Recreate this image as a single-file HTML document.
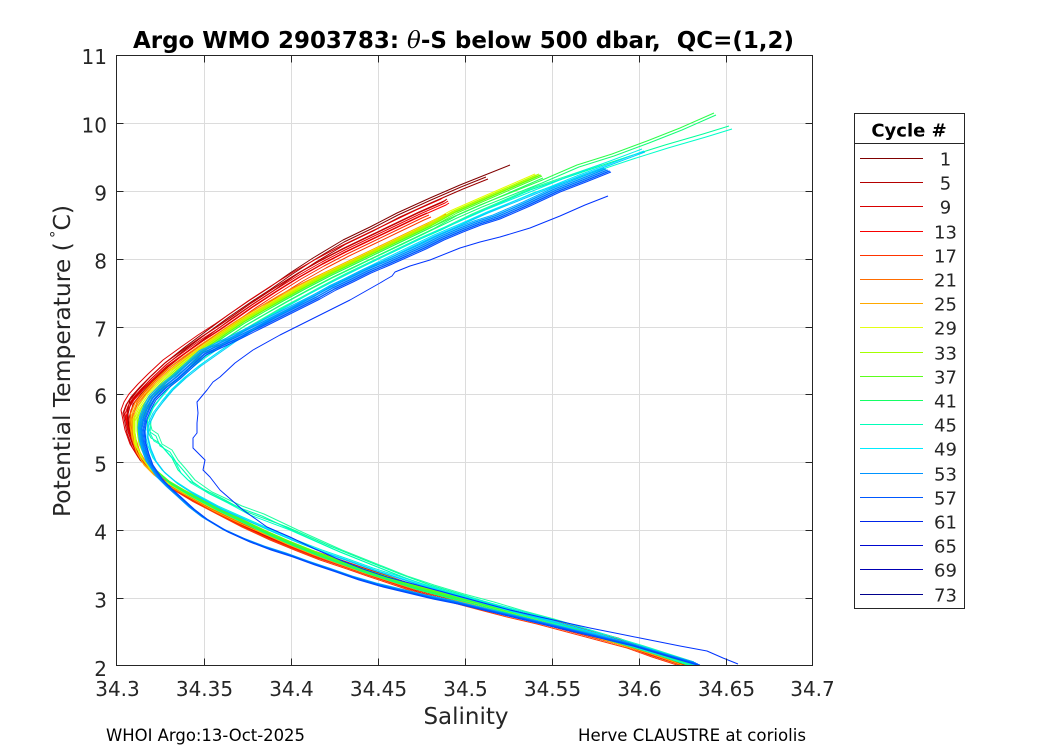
<!DOCTYPE html>
<html><head><meta charset="utf-8"><style>
html,body{margin:0;padding:0;background:#fff;}
svg{display:block;}
text{font-family:"DejaVu Sans","Liberation Sans",sans-serif;fill:#262626;}
</style></head><body>
<svg width="1050" height="750" viewBox="0 0 1050 750" xmlns="http://www.w3.org/2000/svg" xmlns:xlink="http://www.w3.org/1999/xlink">
<rect width="1050" height="750" fill="#fff"/>
<defs>
<clipPath id="cp"><rect x="117" y="56" width="696" height="610"/></clipPath>
<path id="dr" fill="none" d="M510,165 L485,175 L460,185 L430,198 L397,213 L370,227 L343,240 L313,258 L290,273 L270,287 L250,300 L228,315 L205,332 L185,347 L165,363 L150,377 L138,390 L130,400 L127,412 L128,422 L130,433 L135,447 L142,460 L152,471 L167,483 L187,495 L212,508 L237,521 L265,534 L292,545 L315,554 L342,563 L365,571 L392,580 L415,588 L445,596 L475,604 L502,611 L532,618 L562,626 L592,634 L622,642 L647,651 L672,659 L692,666"/>
<path id="dr2" fill="none" d="M485,175 L460,185 L430,198 L397,213 L370,227 L343,240 L313,258 L290,273 L270,287 L250,300 L228,315 L205,332 L185,347 L165,363 L150,377 L138,390 L130,400 L127,412 L128,422 L130,433 L135,447 L142,460 L152,471 L167,483 L187,495 L212,508 L237,521 L265,534 L292,545 L315,554 L342,563 L365,571 L392,580 L415,588 L445,596 L475,604 L502,611 L532,618 L562,626 L592,634 L622,642 L647,651 L672,659 L692,666"/>
<path id="r1" fill="none" d="M446,200 L443,202 L418,213 L393,225 L368,237 L343,249 L320,261 L297,274 L273,289 L250,304 L233,316 L217,327 L200,338 L183,350 L165,363 L150,377 L140,387 L131,397 L126,405 L123,413 L125,423 L127,433 L132,447 L140,460 L150,470 L165,482 L185,494 L210,507 L235,520 L263,533 L290,544 L313,553 L340,562 L363,570 L390,579 L413,587 L443,595 L473,603 L500,610 L530,617 L560,625 L590,633 L620,641 L645,650 L670,658 L693,666"/>
<path id="r2" fill="none" d="M425,210 L418,213 L393,225 L368,237 L343,249 L320,261 L297,274 L273,289 L250,304 L233,316 L217,327 L200,338 L183,350 L165,363 L150,377 L140,387 L131,397 L127,405 L125,413 L126,423 L128,433 L133,447 L141,460 L151,470 L166,482 L186,494 L211,507 L236,520 L264,533 L291,544 L314,553 L341,562 L364,570 L391,579 L414,587 L444,595 L474,603 L501,610 L531,617 L561,625 L591,633 L621,641 L646,650 L671,658 L693,666"/>
<path id="o" fill="none" d="M446,214 L430,222 L405,234 L380,246 L355,258 L330,270 L305,282 L280,295 L258,308 L238,320 L220,332 L202,344 L185,356 L168,369 L155,381 L145,392 L137,402 L133,412 L132,425 L134,437 L138,450 L145,462 L155,472 L170,483 L188,493 L213,507 L240,520 L265,531 L290,542 L315,552 L340,561 L365,570 L390,578 L415,586 L445,594 L475,602 L505,610 L535,618 L565,626 L595,634 L625,643 L652,651 L675,659 L694,666"/>
<path id="g" fill="none" d="M540,175 L510,188 L480,201 L455,212 L430,226 L405,238 L380,250 L355,262 L330,274 L305,287 L283,299 L262,311 L243,322 L225,334 L208,346 L192,358 L177,370 L163,383 L152,395 L143,408 L138,420 L138,432 L140,445 L146,458 L155,470 L168,481 L185,491 L213,506 L240,519 L265,531 L290,542 L315,552 L340,561 L365,570 L390,578 L415,586 L445,594 L475,602 L505,610 L535,618 L565,626 L595,634 L625,643 L652,651 L675,659 L695,665"/>
<path id="gl" fill="none" d="M714,113 L680,128 L647,141 L612,154 L577,165 L540,181 L510,193 L480,205 L455,216 L430,228 L405,240 L380,252 L355,264 L330,276 L305,289 L283,301 L262,313 L243,324 L225,336 L208,348 L192,360 L177,372 L163,385 L153,397 L145,410 L140,422 L140,434 L142,447 L148,460 L157,472 L170,483 L187,493 L215,508 L242,521 L267,533 L292,544 L317,554 L342,563 L367,572 L392,580 L417,588 L447,596 L477,603 L507,611 L537,619 L567,627 L597,635 L627,644 L654,652 L677,660 L696,665"/>
<path id="c" fill="none" d="M729,126 L703,134 L665,145 L630,156 L600,166 L565,178 L530,190 L500,203 L470,216 L443,229 L418,240 L393,252 L368,264 L343,276 L320,288 L298,300 L277,311 L258,322 L238,334 L220,346 L203,358 L187,370 L173,383 L162,396 L153,408 L148,418 L147,430 L151,438 L158,442 L165,450 L172,458 L178,470 L188,480 L205,490 L225,500 L247,512 L287,527 L330,546 L367,561 L400,574 L430,585 L460,594 L490,603 L520,612 L550,620 L580,629 L610,638 L640,647 L665,655 L690,663"/>
<path id="c3" fill="none" d="M600,166 L565,178 L530,190 L500,203 L470,216 L443,229 L418,240 L393,252 L368,264 L343,276 L320,288 L298,300 L277,311 L258,322 L238,334 L220,346 L203,358 L187,370 L173,383 L162,396 L152,408 L147,420 L150,432 L156,436 L160,446 L170,452 L176,462 L183,470 L193,482 L210,494 L240,508 L262,516 L300,534 L340,552 L375,566 L405,578 L432,587 L462,596 L492,604 L522,613 L552,621 L582,630 L612,639 L642,648 L667,656 L692,664"/>
<path id="c2" fill="none" d="M642,149 L610,161 L577,173 L545,186 L515,198 L485,210 L458,222 L432,233 L407,245 L382,257 L358,269 L334,281 L311,293 L290,305 L270,316 L251,327 L232,339 L215,351 L198,363 L183,375 L170,387 L160,399 L151,411 L146,422 L145,434 L148,446 L153,458 L162,470 L175,481 L192,492 L218,506 L245,518 L270,529 L296,540 L322,550 L348,559 L373,568 L398,576 L423,584 L453,593 L483,601 L513,609 L543,617 L573,625 L603,634 L633,643 L658,651 L680,658 L697,664"/>
<path id="b" fill="none" d="M608,170 L583,180 L557,190 L527,204 L497,217 L478,223 L460,230 L441,238 L423,247 L405,255 L387,263 L368,271 L350,280 L333,288 L317,297 L297,307 L277,317 L257,327 L237,337 L220,345 L203,353 L190,365 L177,377 L164,387 L153,398 L148,407 L144,417 L142,429 L143,441 L146,452 L150,463 L160,478 L170,488 L180,497 L192,508 L205,518 L225,530 L247,540 L268,548 L290,555 L312,563 L333,570 L356,578 L380,585 L405,591 L430,597 L455,602 L480,608 L505,614 L530,620 L555,626 L580,632 L605,638 L630,644 L650,650 L670,656 L698,664"/>
<path id="x" fill="none" d="M608,196 L585,205 L560,216 L530,228 L500,237 L480,242 L460,248 L430,260 L410,266 L400,270 L395,272 L392,276 L385,280 L380,283 L350,300 L330,310 L310,320 L280,335 L253,350 L235,363 L220,377 L213,382 L207,390 L197,402 L198,413 L197,423 L197,433 L193,438 L193,448 L200,455 L205,460 L203,470 L210,477 L220,490 L243,510 L267,527 L290,537 L315,549 L340,560 L363,569 L387,577 L417,585 L447,593 L480,602 L510,610 L540,617 L590,628 L640,638 L680,646 L707,651 L723,658 L738,664"/>
</defs>

<!-- grid -->
<g stroke="#dcdcdc" stroke-width="1">
<line x1="204.5" y1="56" x2="204.5" y2="666"/>
<line x1="291.5" y1="56" x2="291.5" y2="666"/>
<line x1="378.5" y1="56" x2="378.5" y2="666"/>
<line x1="465.5" y1="56" x2="465.5" y2="666"/>
<line x1="552.5" y1="56" x2="552.5" y2="666"/>
<line x1="639.5" y1="56" x2="639.5" y2="666"/>
<line x1="726.5" y1="56" x2="726.5" y2="666"/>
<line x1="117" y1="598.5" x2="813" y2="598.5"/>
<line x1="117" y1="530.5" x2="813" y2="530.5"/>
<line x1="117" y1="462.5" x2="813" y2="462.5"/>
<line x1="117" y1="394.5" x2="813" y2="394.5"/>
<line x1="117" y1="327.5" x2="813" y2="327.5"/>
<line x1="117" y1="259.5" x2="813" y2="259.5"/>
<line x1="117" y1="191.5" x2="813" y2="191.5"/>
<line x1="117" y1="123.5" x2="813" y2="123.5"/>
</g>

<!-- data -->
<g clip-path="url(#cp)" fill="none" stroke-width="1" stroke-linejoin="round">
<use href="#dr" xlink:href="#dr" stroke="#800000"/>
<use href="#dr2" xlink:href="#dr2" stroke="#8c0000" transform="translate(1,2)"/>
<use href="#dr2" xlink:href="#dr2" stroke="#9a0000" transform="translate(3,4)"/>
<use href="#r1" xlink:href="#r1" stroke="#b80000"/>
<use href="#r1" xlink:href="#r1" stroke="#c80000" transform="translate(1,-1)"/>
<use href="#r1" xlink:href="#r1" stroke="#e00000" transform="translate(-2,-3)"/>
<use href="#r1" xlink:href="#r1" stroke="#f00000" transform="translate(2,1)"/>
<use href="#r1" xlink:href="#r1" stroke="#ff0000" transform="translate(3,3)"/>
<use href="#r2" xlink:href="#r2" stroke="#d80000" transform="translate(2,3)"/>
<use href="#r2" xlink:href="#r2" stroke="#ff2400" transform="translate(4,5)"/>
<use href="#r2" xlink:href="#r2" stroke="#ff3800" transform="translate(6,7)"/>
<use href="#o" xlink:href="#o" stroke="#ff5000"/>
<use href="#o" xlink:href="#o" stroke="#ff6800" transform="translate(1,1)"/>
<use href="#o" xlink:href="#o" stroke="#ff8000" transform="translate(2,2)"/>
<use href="#o" xlink:href="#o" stroke="#ff9800" transform="translate(-2,1)"/>
<use href="#o" xlink:href="#o" stroke="#ffb000" transform="translate(-1,3)"/>
<use href="#g" xlink:href="#g" stroke="#e6ff00" transform="translate(-5,-1)"/>
<use href="#g" xlink:href="#g" stroke="#d4ff00" transform="translate(-4,0)"/>
<use href="#g" xlink:href="#g" stroke="#c4ff00" transform="translate(-3,1)"/>
<use href="#g" xlink:href="#g" stroke="#a8ff00" transform="translate(-1,-1)"/>
<use href="#g" xlink:href="#g" stroke="#8cff00"/>
<use href="#g" xlink:href="#g" stroke="#64ff10" transform="translate(1,0)"/>
<use href="#g" xlink:href="#g" stroke="#4cff20" transform="translate(2,1)"/>
<use href="#g" xlink:href="#g" stroke="#1eff5a" transform="translate(3,3)"/>
<use href="#gl" xlink:href="#gl" stroke="#2aff4a"/>
<use href="#gl" xlink:href="#gl" stroke="#10ff78" transform="translate(2,2)"/>
<use href="#c" xlink:href="#c" stroke="#00ff9a"/>
<use href="#c" xlink:href="#c" stroke="#00ffc8" transform="translate(3,3)"/>
<use href="#c3" xlink:href="#c3" stroke="#00ffb0"/>
<use href="#c3" xlink:href="#c3" stroke="#20ffa0" transform="translate(2,-2)"/>
<use href="#c2" xlink:href="#c2" stroke="#00f4e0"/>
<use href="#c2" xlink:href="#c2" stroke="#00e0ff" transform="translate(2,2)"/>
<use href="#c2" xlink:href="#c2" stroke="#00ccff" transform="translate(3,3)"/>
<use href="#b" xlink:href="#b" stroke="#00b0ff" transform="translate(-4,-2)"/>
<use href="#b" xlink:href="#b" stroke="#00a0ff" transform="translate(-3,-1)"/>
<use href="#b" xlink:href="#b" stroke="#0094ff" transform="translate(-2,-1)"/>
<use href="#b" xlink:href="#b" stroke="#0084ff" transform="translate(-1,0)"/>
<use href="#b" xlink:href="#b" stroke="#0078ff"/>
<use href="#b" xlink:href="#b" stroke="#0068ff" transform="translate(1,1)"/>
<use href="#b" xlink:href="#b" stroke="#005cff" transform="translate(2,1)"/>
<use href="#b" xlink:href="#b" stroke="#0048ff" transform="translate(3,2)"/>
<use href="#x" xlink:href="#x" stroke="#0033ff"/>
</g>

<!-- axes box and ticks -->
<g stroke="#262626" stroke-width="1" fill="none">
<rect x="116.5" y="55.5" width="696" height="610"/>
<path d="M204.5,665.5v-7M291.5,665.5v-7M378.5,665.5v-7M465.5,665.5v-7M552.5,665.5v-7M639.5,665.5v-7M726.5,665.5v-7
M204.5,55.5v7M291.5,55.5v7M378.5,55.5v7M465.5,55.5v7M552.5,55.5v7M639.5,55.5v7M726.5,55.5v7
M116.5,598.5h7M116.5,530.5h7M116.5,462.5h7M116.5,394.5h7M116.5,327.5h7M116.5,259.5h7M116.5,191.5h7M116.5,123.5h7
M812.5,598.5h-7M812.5,530.5h-7M812.5,462.5h-7M812.5,394.5h-7M812.5,327.5h-7M812.5,259.5h-7M812.5,191.5h-7M812.5,123.5h-7"/>
</g>

<!-- y tick labels -->
<g font-size="20" text-anchor="end">
<text x="107" y="64">11</text>
<text x="107" y="132.5">10</text>
<text x="107" y="200.5">9</text>
<text x="107" y="268.5">8</text>
<text x="107" y="336.5">7</text>
<text x="107" y="403.5">6</text>
<text x="107" y="471.5">5</text>
<text x="107" y="539.5">4</text>
<text x="107" y="607.5">3</text>
<text x="107" y="676">2</text>
</g>
<!-- x tick labels -->
<g font-size="20" text-anchor="middle">
<text x="117.5" y="696">34.3</text>
<text x="204.5" y="696">34.35</text>
<text x="291.5" y="696">34.4</text>
<text x="378.5" y="696">34.45</text>
<text x="465.5" y="696">34.5</text>
<text x="552.5" y="696">34.55</text>
<text x="639.5" y="696">34.6</text>
<text x="726.5" y="696">34.65</text>
<text x="812.5" y="696">34.7</text>
</g>

<text x="466" y="724" font-size="23" text-anchor="middle">Salinity</text>
<text transform="translate(70,361) rotate(-90)" font-size="23" text-anchor="middle" textLength="312" lengthAdjust="spacingAndGlyphs">Potential Temperature (<tspan font-size="15" dx="4" dy="-9">°</tspan><tspan dy="9">C)</tspan></text>

<text x="463.5" y="48" font-size="23" font-weight="bold" text-anchor="middle" textLength="661" lengthAdjust="spacingAndGlyphs" style="fill:#000">Argo WMO 2903783: <tspan font-family="DejaVu Serif, Liberation Serif, serif" font-style="italic" font-weight="normal">θ</tspan>-S below 500 dbar,&#160; QC=(1,2)</text>

<text x="106" y="741" font-size="16.5" textLength="199" lengthAdjust="spacingAndGlyphs" style="fill:#000">WHOI Argo:13-Oct-2025</text>
<text x="578" y="741" font-size="16.5" textLength="228" lengthAdjust="spacingAndGlyphs" style="fill:#000">Herve CLAUSTRE at coriolis</text>

<!-- legend -->
<rect x="854.5" y="113.5" width="110" height="495" fill="#fff" stroke="#262626" stroke-width="1"/>
<line x1="854.5" y1="143.5" x2="964.5" y2="143.5" stroke="#262626" stroke-width="1"/>
<text x="909" y="136.5" font-size="18" font-weight="bold" text-anchor="middle" style="fill:#000">Cycle #</text>
<g stroke-width="1">
<line x1="860" x2="923" y1="158.5" y2="158.5" stroke="#800000"/>
<line x1="860" x2="923" y1="182.5" y2="182.5" stroke="#b40000"/>
<line x1="860" x2="923" y1="206.5" y2="206.5" stroke="#d80000"/>
<line x1="860" x2="923" y1="231.5" y2="231.5" stroke="#f80000"/>
<line x1="860" x2="923" y1="255.5" y2="255.5" stroke="#ff3400"/>
<line x1="860" x2="923" y1="279.5" y2="279.5" stroke="#ff6c00"/>
<line x1="860" x2="923" y1="303.5" y2="303.5" stroke="#ffa800"/>
<line x1="860" x2="923" y1="327.5" y2="327.5" stroke="#e4ff14"/>
<line x1="860" x2="923" y1="352.5" y2="352.5" stroke="#a4ff00"/>
<line x1="860" x2="923" y1="376.5" y2="376.5" stroke="#5cff1c"/>
<line x1="860" x2="923" y1="400.5" y2="400.5" stroke="#14ff64"/>
<line x1="860" x2="923" y1="424.5" y2="424.5" stroke="#00ffb8"/>
<line x1="860" x2="923" y1="448.5" y2="448.5" stroke="#00ecff"/>
<line x1="860" x2="923" y1="473.5" y2="473.5" stroke="#0094ff"/>
<line x1="860" x2="923" y1="497.5" y2="497.5" stroke="#0058ff"/>
<line x1="860" x2="923" y1="521.5" y2="521.5" stroke="#0024e8"/>
<line x1="860" x2="923" y1="545.5" y2="545.5" stroke="#0008d0"/>
<line x1="860" x2="923" y1="569.5" y2="569.5" stroke="#0000b4"/>
<line x1="860" x2="923" y1="594.5" y2="594.5" stroke="#00008c"/>
</g>
<g font-size="18" text-anchor="middle" style="fill:#000">
<text x="945.5" y="165.5">1</text>
<text x="945.5" y="189.5">5</text>
<text x="945.5" y="213.5">9</text>
<text x="945.5" y="238.5">13</text>
<text x="945.5" y="262.5">17</text>
<text x="945.5" y="286.5">21</text>
<text x="945.5" y="310.5">25</text>
<text x="945.5" y="334.5">29</text>
<text x="945.5" y="359.5">33</text>
<text x="945.5" y="383.5">37</text>
<text x="945.5" y="407.5">41</text>
<text x="945.5" y="431.5">45</text>
<text x="945.5" y="455.5">49</text>
<text x="945.5" y="480.5">53</text>
<text x="945.5" y="504.5">57</text>
<text x="945.5" y="528.5">61</text>
<text x="945.5" y="552.5">65</text>
<text x="945.5" y="576.5">69</text>
<text x="945.5" y="601.5">73</text>
</g>
</svg>
</body></html>
